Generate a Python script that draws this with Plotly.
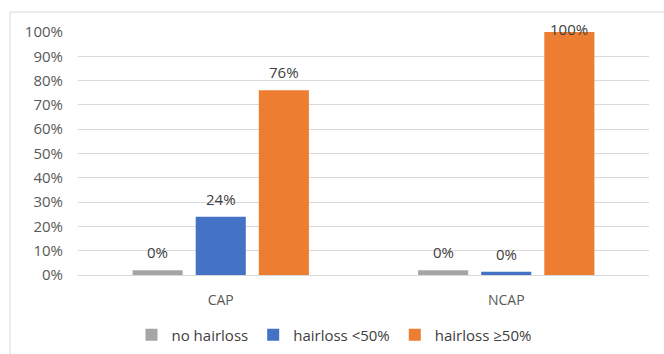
import plotly.graph_objects as go

categories = ["CAP", "NCAP"]
series_names = ["no hairloss", "hairloss <50%", "hairloss ≥50%"]
# visible bar heights (%) as drawn in the reference
no_hairloss = [2, 2]
hairloss_lt50 = [24, 1.3]
hairloss_ge50 = [76, 100]
# data label texts
no_hairloss_labels = ["0%", "0%"]
hairloss_lt50_labels = ["24%", "0%"]
hairloss_ge50_labels = ["76%", "100%"]
y_ticks = list(range(0, 101, 10))
y_tick_text = [f"{v}%" for v in y_ticks]

colors = ["#A5A5A5", "#4472C4", "#ED7D31"]
values = [no_hairloss, hairloss_lt50, hairloss_ge50]
labels = [no_hairloss_labels, hairloss_lt50_labels, hairloss_ge50_labels]

FONT = "Open Sans"
BARGAP, GROUPGAP = 0.337, 0.206
YMAX = 100

fig = go.Figure()
for name, vals, col in zip(series_names, values, colors):
    fig.add_trace(go.Bar(
        x=categories, y=vals, name=name, marker_color=col, marker_line_width=0,
        hoverinfo="skip",
    ))

# data labels placed above each bar (group slot offsets follow the bar layout)
n = len(series_names)
slot = (1 - BARGAP) / n
annotations = []
for i, txt in enumerate(labels):
    off = (i - (n - 1) / 2) * slot
    for ci, (v, t) in enumerate(zip(values[i], txt)):
        top = v >= YMAX
        annotations.append(dict(
            x=ci + off, y=min(v, YMAX), xref="x", yref="y", text=t, showarrow=False,
            yanchor="bottom", yshift=-9 if top else 6,
            font=dict(family=FONT, size=15, color="#404040"),
        ))

W, H = 664, 354
L, R, T, B = 78, 15, 32, 79
pw, ph = W - L - R, H - T - B

def px(x):
    return (x - L) / pw

def py(y):
    return (H - B - y) / ph

fig.update_layout(
    width=W, height=H,
    margin=dict(l=L, r=R, t=T, b=B, pad=0, autoexpand=False),
    paper_bgcolor="white", plot_bgcolor="white",
    barmode="group", bargap=BARGAP, bargroupgap=GROUPGAP,
    font=dict(family=FONT, size=15, color="#595959"),
    legend=dict(
        orientation="h", x=px(334), xanchor="center", y=py(335), yanchor="middle",
        font=dict(family=FONT, size=15, color="#404040"),
        itemsizing="constant", traceorder="normal", itemwidth=30,
    ),
    annotations=annotations,
    shapes=[
        dict(type="line", xref="paper", yref="paper", x0=px(10), x1=px(664), y0=py(12), y1=py(12),
             line=dict(color="#D9D9D9", width=1)),
        dict(type="line", xref="paper", yref="paper", x0=px(10), x1=px(10), y0=py(12), y1=py(354),
             line=dict(color="#D9D9D9", width=1)),
    ],
)
fig.update_xaxes(
    showgrid=False, showline=True, linecolor="#D9D9D9", linewidth=1,
    ticks="", ticklabelstandoff=12,
    tickfont=dict(family=FONT, size=14, color="#595959"),
)
fig.update_yaxes(
    range=[0, YMAX], tickvals=y_ticks, ticktext=y_tick_text,
    showgrid=True, gridcolor="#D9D9D9", gridwidth=1, zeroline=False,
    showline=False, ticks="", ticklabelstandoff=14,
    tickfont=dict(family=FONT, size=15, color="#595959"),
)
fig.write_html("out.html")
